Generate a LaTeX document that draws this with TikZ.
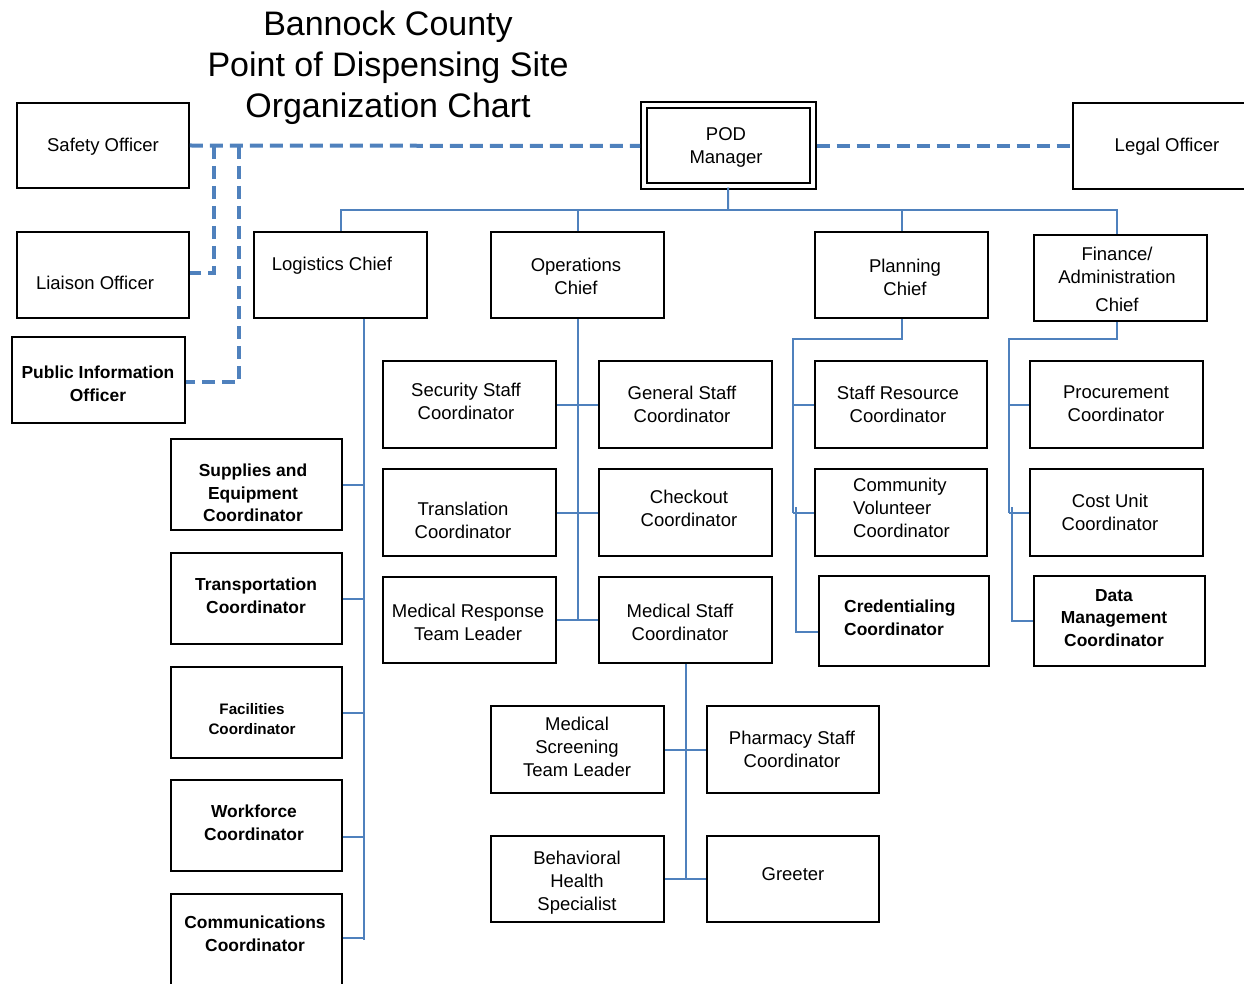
\documentclass[tikz,border=0pt]{standalone}
\usepackage{fontspec}
\setmainfont{Liberation Sans}
\usetikzlibrary{fit}
\definecolor{linkblue}{HTML}{4F81BD}
\begin{document}
\begin{tikzpicture}[x=1pt,y=-1pt,
  box/.style={draw=black, line width=1.8pt, rectangle, inner sep=0pt},
  txt/.style={align=center, font=\fontsize{18.5}{23}\selectfont, inner sep=0pt},
  btxt/.style={align=center, font=\fontsize{17.4}{22.5}\selectfont\bfseries, inner sep=0pt},
  link/.style={draw=linkblue, line width=2pt},
  dlink/.style={draw=linkblue, line width=4pt, dash pattern=on 13pt off 7pt}]
\useasboundingbox (0,0) rectangle (1244,984);

% Title
\node[align=center, font=\fontsize{34}{41}\selectfont, inner sep=0pt] (title) at (388,68)
  {Bannock County\\Point of Dispensing Site\\Organization Chart};

% Command staff
\node[box, fit={(17,103)(189,188)}] (safety) {};
\node[box, fit={(17,232)(189,318)}] (liaison) {};
\node[box, line width=2.6pt, fit={(12,337)(185,423)}] (pio) {};
\node[box, line width=2pt, double, double distance=4pt, fit={(644,105.5)(812.5,186.5)}] (pod) {};
\node[box, fit={(1073,103)(1250,189)}] (legal) {};

\node[txt] at (103,147) {Safety Officer};
\node[txt] at (95,283) {Liaison Officer};
\node[btxt] at (98,384) {Public Information\\Officer};
\node[txt] at (726,147) {POD\\Manager};
\node[txt] at (1167,147) {Legal Officer};

% Section chiefs
\node[box, fit={(254,232)(427,318)}] (log) {};
\node[box, fit={(491,232)(664,318)}] (ops) {};
\node[box, fit={(815,232)(988,318)}] (plan) {};
\node[box, fit={(1034,235)(1207,321)}] (fin) {};

\node[txt] at (332,266) {Logistics Chief};
\node[txt] at (576,276) {Operations\\Chief};
\node[txt] at (905,277) {Planning\\Chief};
\node[txt] at (1117,279) {Finance/\\Administration\\[5pt]Chief};

% Logistics section
\node[box, fit={(171,439)(342,530)}] (sup) {};
\node[box, fit={(171,553)(342,644)}] (trn) {};
\node[box, fit={(171,667)(342,758)}] (fac) {};
\node[box, fit={(171,780)(342,871)}] (wf) {};
\node[box, fit={(171,894)(342,986)}] (comm) {};

\node[btxt] at (253,493) {Supplies and\\Equipment\\Coordinator};
\node[btxt] at (256,596) {Transportation\\Coordinator};
\node[align=center, font=\fontsize{15.2}{20}\selectfont\bfseries, inner sep=0pt] at (252,719) {Facilities\\Coordinator};
\node[btxt] at (254,823) {Workforce\\Coordinator};
\node[btxt] at (255,934) {Communications\\Coordinator};

% Operations section
\node[box, fit={(383,361)(556,448)}] (sec) {};
\node[box, fit={(599,361)(772,448)}] (gen) {};
\node[box, fit={(383,469)(556,556)}] (trans) {};
\node[box, fit={(599,469)(772,556)}] (chk) {};
\node[box, fit={(383,577)(556,663)}] (mrtl) {};
\node[box, fit={(599,577)(772,663)}] (mstaff) {};
\node[box, fit={(491,706)(664,793)}] (mscr) {};
\node[box, fit={(707,706)(879,793)}] (pharm) {};
\node[box, fit={(491,836)(664,922)}] (beh) {};
\node[box, fit={(707,836)(879,922)}] (greet) {};

\node[txt] at (466,401) {Security Staff\\Coordinator};
\node[txt] at (682,404) {General Staff\\Coordinator};
\node[txt] at (463,520) {Translation\\Coordinator};
\node[txt] at (689,508) {Checkout\\Coordinator};
\node[txt] at (468,622) {Medical Response\\Team Leader};
\node[txt] at (680,622) {Medical Staff\\Coordinator};
\node[txt] at (577,747) {Medical\\Screening\\Team Leader};
\node[txt] at (792,749) {Pharmacy Staff\\Coordinator};
\node[txt] at (577,883) {Behavioral\\Health\\Specialist};
\node[txt] at (793,874) {Greeter};

% Planning section
\node[box, fit={(815,361)(987,448)}] (sres) {};
\node[box, fit={(815,469)(987,556)}] (cvol) {};
\node[box, fit={(819,576)(989,666)}] (cred) {};

\node[txt] at (898,404) {Staff Resource\\Coordinator};
\node[txt, align=left, anchor=west] at (853,508) {Community\\Volunteer\\Coordinator};
\node[btxt, align=left, anchor=west] at (844,618) {Credentialing\\Coordinator};

% Finance/Administration section
\node[box, fit={(1030,361)(1203,448)}] (proc) {};
\node[box, fit={(1030,469)(1203,556)}] (cost) {};
\node[box, fit={(1034,576)(1205,666)}] (data) {};

\node[txt] at (1116,404) {Procurement\\Coordinator};
\node[txt] at (1110,512) {Cost Unit\\Coordinator};
\node[btxt] at (1114,618) {Data\\Management\\Coordinator};

% Dashed advisory links
\draw[dlink] (safety.east) -- ([xshift=-3pt]pod.west);
\draw[dlink] ([xshift=3pt]pod.east) -- (legal.west);
\coordinate (d1) at (214,146);
\coordinate (d2) at (239,146);
\draw[dlink] (d1) |- ([yshift=2pt]liaison.east);
\draw[dlink] (d2) |- ([yshift=-2pt]pio.east);

% Chain of command bus
\coordinate (bus) at (728,210);
\draw[link] (pod.south) -- (bus);
\draw[link] (log.north) |- (bus) -| ([xshift=-4pt]fin.north);
\draw[link] (ops.north) -- (ops.north |- bus);
\draw[link] (plan.north) -- (plan.north |- bus);

% Logistics links
\coordinate (lb) at (364,318);
\draw[link] (log.south -| lb) -- (comm.east -| lb);
\draw[link] (sup.east) -- (sup.east -| lb);
\draw[link] (trn.east) -- (trn.east -| lb);
\draw[link] (fac.east) -- (fac.east -| lb);
\draw[link] ([yshift=-11pt]wf.east) -- ([yshift=-11pt]wf.east -| lb);
\draw[link] ([yshift=2pt]comm.east) -- ([yshift=2pt]comm.east -| lb);

% Operations links
\draw[link] (ops.south) -- (ops.south |- mrtl.east);
\draw[link] (sec.east) -- (gen.west);
\draw[link] (trans.east) -- (chk.west);
\draw[link] (mrtl.east) -- (mstaff.west);
\draw[link] (mstaff.south) -- (mstaff.south |- beh.east);
\draw[link] (mscr.east) -- (pharm.west);
\draw[link] (beh.east) -- (greet.west);

% Planning links
\coordinate (pb) at (793,339);
\coordinate (pb2) at (796,507);
\draw[link] (plan.south) |- (pb) -- (pb |- cvol.west);
\draw[link] (sres.west) -- (sres.west -| pb);
\draw[link] (cvol.west) -- (cvol.west -| pb);
\draw[link] (pb2) |- ([yshift=-11pt]cred.west);

% Finance/Administration links
\coordinate (fb) at (1008.5,339);
\coordinate (fb2) at (1011.5,507);
\draw[link] ([xshift=-4pt]fin.south) |- (fb) -- (fb |- cost.west);
\draw[link] (proc.west) -- (proc.west -| fb);
\draw[link] (cost.west) -- (cost.west -| fb);
\draw[link] (fb2) |- (data.west);
\end{tikzpicture}
\end{document}
